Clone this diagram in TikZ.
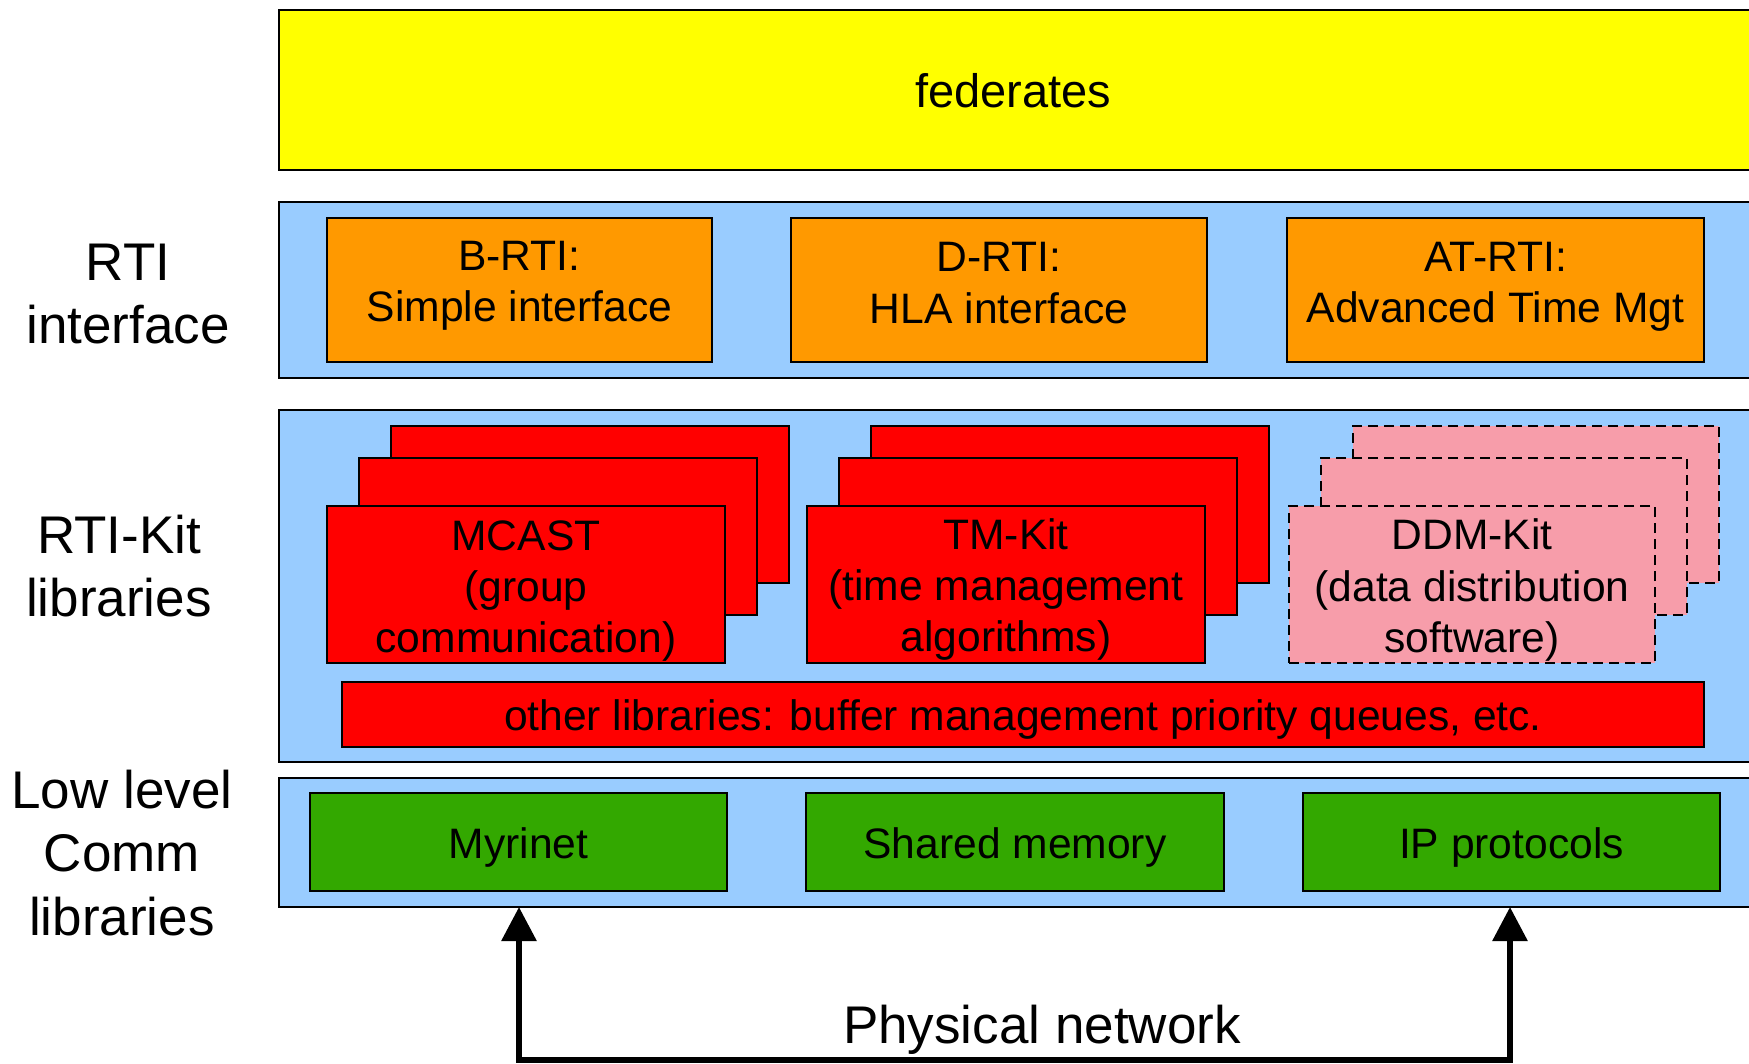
\documentclass[tikz,border=0pt]{standalone}
\usepackage{fontspec}
\setmainfont{Liberation Sans}
\usetikzlibrary{arrows.meta}
\definecolor{cyel}{RGB}{255,255,0}
\definecolor{cblue}{RGB}{153,204,255}
\definecolor{corange}{RGB}{255,153,0}
\definecolor{cred}{RGB}{255,0,0}
\definecolor{cpink}{RGB}{247,157,170}
\definecolor{cgreen}{RGB}{51,168,0}
\tikzset{
  box/.style={draw=black, line width=2.5pt, inner sep=0pt, outer sep=0pt, anchor=north west},
  band/.style={box, fill=cblue},
  dbox/.style={box, fill=cpink, dash pattern=on 10pt off 6pt},
  boxtext/.style={align=center, inner sep=0pt, font=\fontsize{42.6}{51.3}\selectfont},
  sidelabel/.style={align=center, font=\fontsize{53}{63.6}\selectfont, inner sep=0pt},
  netarrow/.style={line width=6pt, {Triangle[length=34pt,width=34pt]}-{Triangle[length=34pt,width=34pt]}}
}
\begin{document}
\begin{tikzpicture}[x=1pt,y=-1pt]
\useasboundingbox (0,0) rectangle (1749,1064);
\clip (0,0) rectangle (1749,1064);
% federates
\node[box, fill=cyel, minimum width=1500pt, minimum height=160pt] (fed) at (279,10) {};
\node[font=\fontsize{47}{56}\selectfont] (fedt) at (1013,91) {federates};
% RTI interface band
\node[band, minimum width=1500pt, minimum height=176pt] (rtiband) at (279,202) {};
\node[box, fill=corange, minimum width=385pt, minimum height=144pt] (brti) at (327,218) {};
\node[box, fill=corange, minimum width=416pt, minimum height=144pt] (drti) at (791,218) {};
\node[box, fill=corange, minimum width=417pt, minimum height=144pt] (atrti) at (1287,218) {};
\node[boxtext] (brtit) at ([yshift=4pt]brti.center) {B-RTI:\\Simple interface};
\node[boxtext] (drtit) at ([yshift=7pt]drti.center) {D-RTI:\\HLA interface};
\node[boxtext] (atrtit) at ([yshift=3pt]atrti.center) {AT-RTI:\\Advanced Time Mgt};
% RTI-Kit band
\node[band, minimum width=1500pt, minimum height=352pt] (kitband) at (279,410) {};
\node[box, fill=cred, minimum width=398pt, minimum height=157pt] (mc3) at (391,426) {};
\node[box, fill=cred, minimum width=398pt, minimum height=157pt] (mc2) at (359,458) {};
\node[box, fill=cred, minimum width=398pt, minimum height=157pt] (mc1) at (327,506) {};
\node[boxtext] (mct) at ([yshift=-6.5pt]mc1.center) {MCAST\\(group\\communication)};
\node[box, fill=cred, minimum width=398pt, minimum height=157pt] (tm3) at (871,426) {};
\node[box, fill=cred, minimum width=398pt, minimum height=157pt] (tm2) at (839,458) {};
\node[box, fill=cred, minimum width=398pt, minimum height=157pt] (tm1) at (807,506) {};
\node[boxtext] (tmt) at ([yshift=-5pt]tm1.center) {TM-Kit\\(time management\\algorithms)};
\node[dbox, minimum width=366pt, minimum height=157pt] (dd3) at (1353,426) {};
\node[dbox, minimum width=366pt, minimum height=157pt] (dd2) at (1321,458) {};
\node[dbox, minimum width=366pt, minimum height=157pt] (dd1) at (1289,506) {};
\node[boxtext] (ddt) at ([yshift=-5.5pt]dd1.center) {DDM-Kit\\(data distribution\\software)};
\node[box, fill=cred, minimum width=1362pt, minimum height=65pt] (other) at (342,682) {};
\node[boxtext] (othert) at ([yshift=-4.5pt]other.center) {other libraries: buffer management priority queues, etc.};
% Low level band
\node[band, minimum width=1500pt, minimum height=129pt] (lowband) at (279,778) {};
\node[box, fill=cgreen, minimum width=417pt, minimum height=98pt] (myr) at (310,793) {};
\node[box, fill=cgreen, minimum width=418pt, minimum height=98pt] (shm) at (806,793) {};
\node[box, fill=cgreen, minimum width=417pt, minimum height=98pt] (ip) at (1303,793) {};
\node[boxtext] (myrt) at ([yshift=-5.5pt]myr.center) {Myrinet};
\node[boxtext] (shmt) at ([yshift=-5.5pt]shm.center) {Shared memory};
\node[boxtext] (ipt) at ([yshift=-5.5pt]ip.center) {IP protocols};
% side labels
\node[sidelabel] (l1) at (128,294) {RTI\\interface};
\node[sidelabel] (l2) at (119,566) {RTI-Kit\\libraries};
\node[sidelabel] (l3) at (122,853) {Low level\\Comm\\libraries};
% physical network
\coordinate (nl) at (519,1060);
\coordinate (nr) at (1510,1060);
\draw[netarrow] (nl |- lowband.south) -- (nl) -- (nr) -- (nr |- lowband.south);
\node[font=\fontsize{53}{63.6}\selectfont] (phys) at (1042,1029.5) {Physical network};
\end{tikzpicture}
\end{document}
